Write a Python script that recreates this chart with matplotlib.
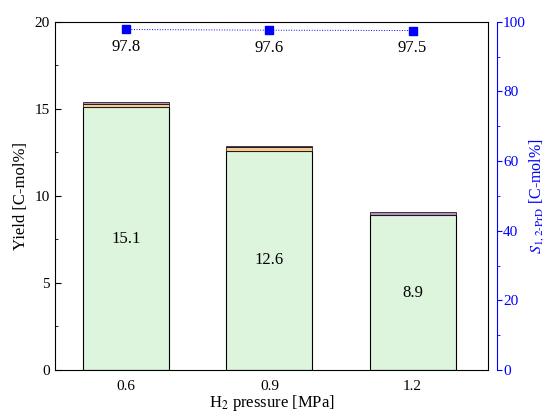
import matplotlib

matplotlib.use("Agg")
import matplotlib.pyplot as plt
from matplotlib.ticker import MultipleLocator

plt.rcParams["font.family"] = ["Liberation Serif", "DejaVu Serif"]
plt.rcParams["mathtext.fontset"] = "stix"

pressures = ["0.6", "0.9", "1.2"]
yield_main = [15.1, 12.6, 8.9]
yield_orange = [0.2, 0.2, 0.03]
yield_purple = [0.1, 0.05, 0.15]
selectivity = [97.8, 97.6, 97.5]

green = "#dcf5dc"
orange = "#f7c98f"
purple = "#b58dbf"
blue = "#0000ff"

fig = plt.figure(figsize=(5.47, 4.12), dpi=100)
ax = fig.add_axes([0.1, 0.102, 0.793, 0.845])
x = list(range(len(pressures)))
width = 0.6

ax.bar(x, yield_main, width, color=green, edgecolor="black", linewidth=0.8)
ax.bar(x, yield_orange, width, bottom=yield_main, color=orange,
       edgecolor="black", linewidth=0.5)
bottom3 = [a + b for a, b in zip(yield_main, yield_orange)]
ax.bar(x, yield_purple, width, bottom=bottom3, color=purple,
       edgecolor="black", linewidth=0.5)

for xi, v in zip(x, yield_main):
    ax.text(xi, v / 2, f"{v:.1f}", ha="center", va="center", fontsize=12)

ax.set_xlim(-0.5, 2.53)
ax.set_ylim(0, 20)
ax.set_xticks(x)
ax.set_xticklabels(pressures, fontsize=11)
ax.tick_params(axis="x", length=0, pad=7)
ax.yaxis.set_major_locator(MultipleLocator(5))
ax.yaxis.set_minor_locator(MultipleLocator(2.5))
ax.tick_params(axis="y", which="both", direction="in", labelsize=11)
ax.tick_params(axis="y", which="major", length=4)
ax.tick_params(axis="y", which="minor", length=2.5)
ax.set_ylabel("Yield [C-mol%]", fontsize=12)
ax.set_xlabel("H$_2$ pressure [MPa]", fontsize=12, labelpad=0)

ax2 = ax.twinx()
ax2.plot(x, selectivity, color=blue, linestyle=":", linewidth=0.7,
         marker="s", markersize=6)
for xi, s in zip(x, selectivity):
    ax2.annotate(f"{s:.1f}", (xi, s), xytext=(0, -7), textcoords="offset points",
                 ha="center", va="top", fontsize=12)
ax2.set_ylim(0, 100)
ax2.spines["right"].set_position(("outward", 6))
ax2.spines["right"].set_color(blue)
ax2.yaxis.set_major_locator(MultipleLocator(20))
ax2.yaxis.set_minor_locator(MultipleLocator(10))
ax2.tick_params(axis="y", which="both", colors=blue, direction="out",
                labelsize=11, pad=1)
ax2.tick_params(axis="y", which="major", length=3.5)
ax2.tick_params(axis="y", which="minor", length=2)
ax2.set_ylabel(r"$S_{\mathrm{1,2\text{-}PrD}}$ [C-mol%]", color=blue,
               fontsize=11.5, labelpad=1)

ax2.spines["left"].set_visible(False)
ax2.spines["top"].set_visible(False)
ax2.spines["bottom"].set_visible(False)

fig.savefig("out.png", dpi=100)
plt.close(fig)
